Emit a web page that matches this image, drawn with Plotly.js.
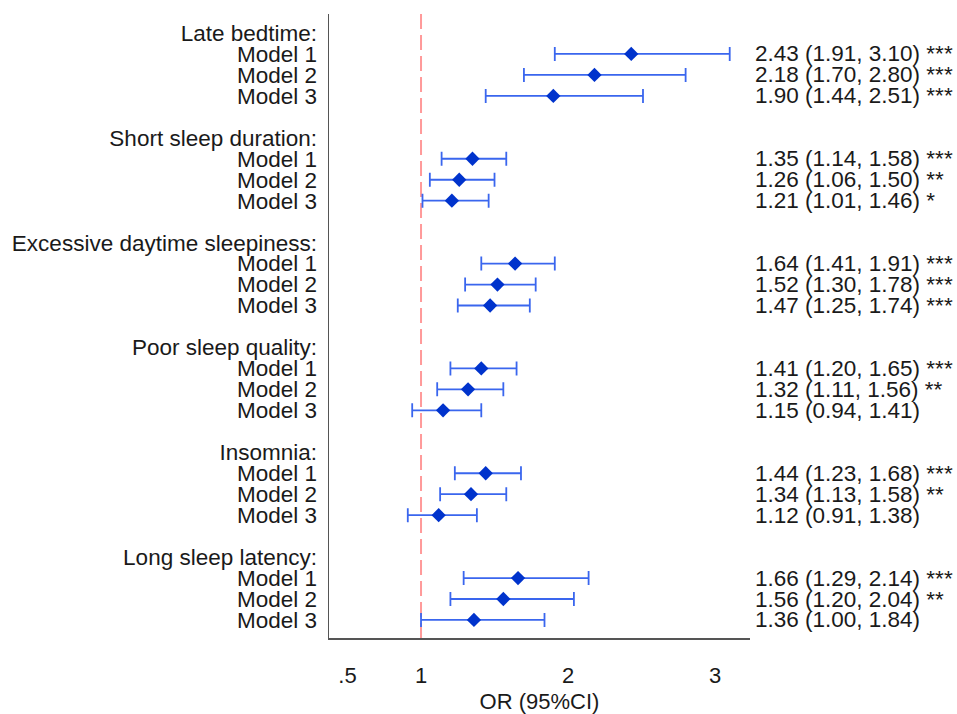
<!DOCTYPE html>
<html>
<head>
<meta charset="utf-8">
<script src="https://cdn.plot.ly/plotly-3.0.1.min.js"></script>
<style>html,body{margin:0;padding:0;background:#fff;}#chart{width:957px;height:714px;}</style>
</head>
<body>
<div id="chart"></div>
<script>
const groups = ["Late bedtime:", "Short sleep duration:", "Excessive daytime sleepiness:", "Poor sleep quality:", "Insomnia:", "Long sleep latency:"];
const models = ["Model 1", "Model 2", "Model 3"];
const orVals = [
  [2.43, 2.18, 1.90],
  [1.35, 1.26, 1.21],
  [1.64, 1.52, 1.47],
  [1.41, 1.32, 1.15],
  [1.44, 1.34, 1.12],
  [1.66, 1.56, 1.36]
];
const loVals = [
  [1.91, 1.70, 1.44],
  [1.14, 1.06, 1.01],
  [1.41, 1.30, 1.25],
  [1.20, 1.11, 0.94],
  [1.23, 1.13, 0.91],
  [1.29, 1.20, 1.00]
];
const hiVals = [
  [3.10, 2.80, 2.51],
  [1.58, 1.50, 1.46],
  [1.91, 1.78, 1.74],
  [1.65, 1.56, 1.41],
  [1.68, 1.58, 1.38],
  [2.14, 2.04, 1.84]
];
const stars = [
  ["***", "***", "***"],
  ["***", "**", "*"],
  ["***", "***", "***"],
  ["***", "**", ""],
  ["***", "**", ""],
  ["***", "**", ""]
];
const xTickVals = [0.5, 1, 2, 3];
const xTickText = [".5", "1", "2", "3"];
const refValue = 1;

const FONT = "'Liberation Sans', Arial, Helvetica, sans-serif";

const tickvals = [], ticktext = [];
const px = [], py = [], ep = [], em = [];
const annotations = [];
groups.forEach((g, gi) => {
  const base = gi * 5;
  tickvals.push(base); ticktext.push(g);
  models.forEach((m, mi) => {
    const row = base + 1 + mi;
    tickvals.push(row); ticktext.push(m);
    const o = orVals[gi][mi], lo = loVals[gi][mi], hi = hiVals[gi][mi];
    px.push(o); py.push(row);
    ep.push(hi - o); em.push(o - lo);
    const txt = o.toFixed(2) + " (" + lo.toFixed(2) + ", " + hi.toFixed(2) + ")" + (stars[gi][mi] ? " " + stars[gi][mi] : "");
    annotations.push({
      xref: "paper", yref: "y", x: 1, y: row, xshift: 3,
      xanchor: "left", yanchor: "middle", showarrow: false,
      text: txt, font: {family: FONT, size: 22.5, color: "#1a1a1a"}
    });
  });
});

const trace = {
  type: "scatter", mode: "markers",
  x: px, y: py,
  marker: {symbol: "diamond", size: 11, color: "#0033cc"},
  error_x: {type: "data", symmetric: false, array: ep, arrayminus: em,
            color: "#3a66ee", thickness: 1.8, width: 7},
  hoverinfo: "x+y", showlegend: false
};

const layout = {
  width: 957, height: 714,
  margin: {l: 329, r: 207, t: 14, b: 76, pad: 0},
  paper_bgcolor: "#fff", plot_bgcolor: "#fff",
  font: {family: FONT, color: "#1a1a1a"},
  xaxis: {
    range: [0.374, 3.238], tickvals: xTickVals, ticktext: xTickText,
    showgrid: false, zeroline: false, showline: true, linecolor: "#555", linewidth: 1.5,
    ticks: "outside", ticklen: 17, tickcolor: "rgba(0,0,0,0)",
    tickfont: {family: FONT, size: 22, color: "#1a1a1a"},
    title: {text: "OR (95%CI)", font: {family: FONT, size: 22, color: "#1a1a1a"}, standoff: 10},
    fixedrange: true
  },
  yaxis: {
    range: [28.86, -0.906], tickvals: tickvals, ticktext: ticktext,
    showgrid: false, zeroline: false, showline: true, linecolor: "#555", linewidth: 1.5,
    ticks: "outside", ticklen: 6, tickcolor: "rgba(0,0,0,0)",
    tickfont: {family: FONT, size: 22.5, color: "#1a1a1a"},
    fixedrange: true
  },
  shapes: [{
    type: "line", xref: "x", yref: "paper", x0: refValue, x1: refValue, y0: 0, y1: 1,
    line: {color: "#ff9a9a", width: 2, dash: "15px,6px"}, layer: "below"
  }],
  annotations: annotations
};

Plotly.newPlot("chart", [trace], layout, {displayModeBar: false, staticPlot: true});
</script>
</body>
</html>
